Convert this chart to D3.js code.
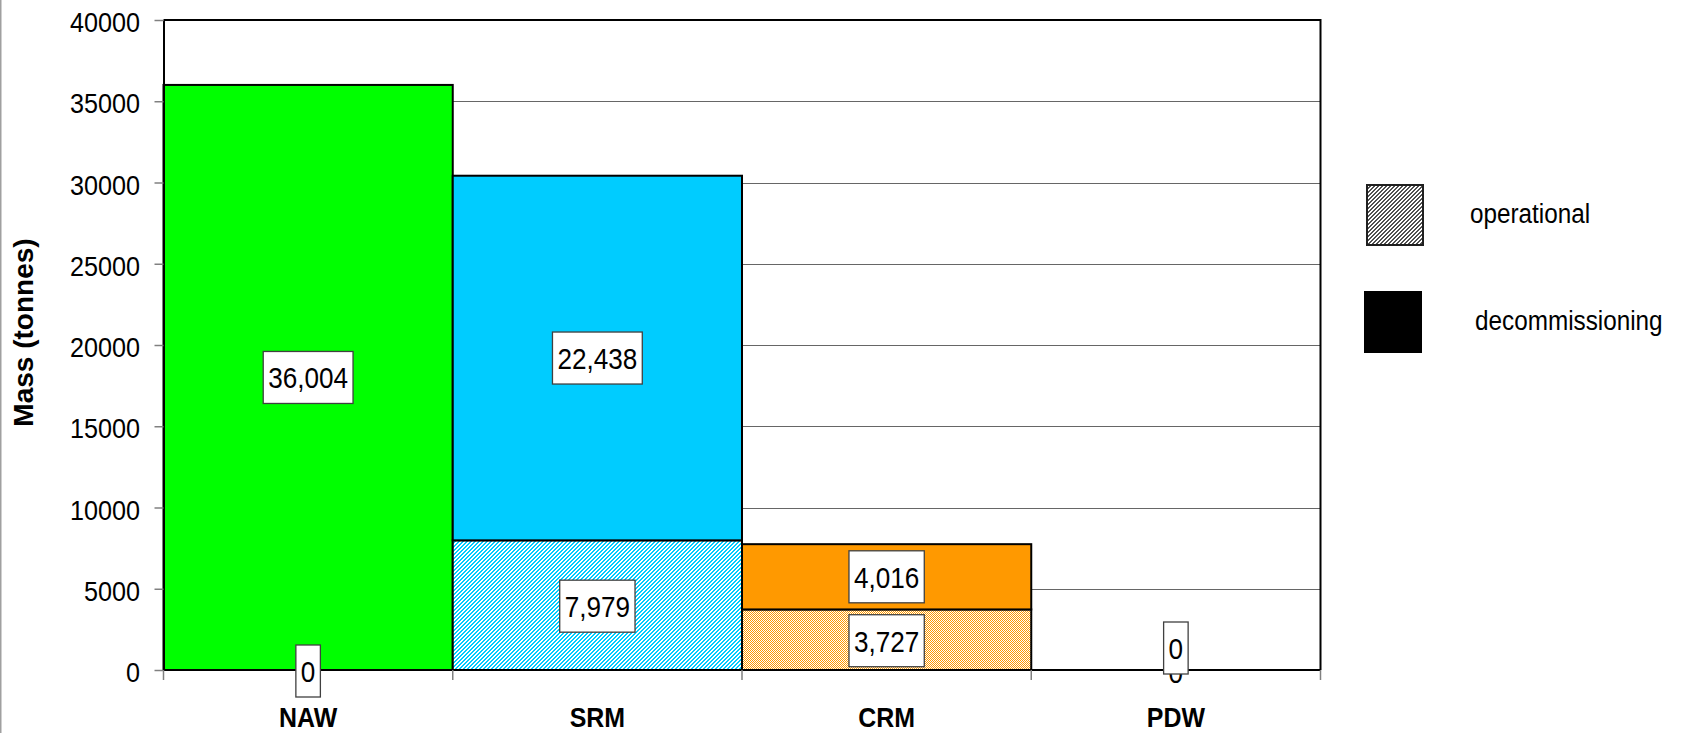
<!DOCTYPE html>
<html>
<head>
<meta charset="utf-8">
<script src="https://cdn.jsdelivr.net/npm/d3@7"></script>
<style>
  body { margin: 0; background: #fff; }
  svg { display: block; }
  text { font-family: "Liberation Sans", Arial, Helvetica, sans-serif; fill: #000; }
</style>
</head>
<body>
<svg id="chart" width="1684" height="733"></svg>
<script>
// Waste mass per stream, split into operational and decommissioning (tonnes)
const categories = ["NAW", "SRM", "CRM", "PDW"];
const operational = [0, 7979, 3727, 0];
const decommissioning = [36004, 22438, 4016, 0];
const seriesNames = ["operational", "decommissioning"];
const yTickValues = [0, 5000, 10000, 15000, 20000, 25000, 30000, 35000, 40000];
const yTitle = "Mass (tonnes)";

// Styling per stream
const barColors = ["#00ff00", "#00ccff", "#ff9900", "#ffffff"];
const hatchKinds = ["diag", "diag", "checker", "diag"];

const plot = { left: 163.5, right: 1320.5, top: 20, bottom: 670 };
const SX = 0.9; // text is set slightly condensed

const svg = d3.select("#chart");
const defs = svg.append("defs");

function makePattern(id, color, kind) {
  const p = defs.append("pattern")
    .attr("id", id)
    .attr("patternUnits", "userSpaceOnUse")
    .attr("width", 4).attr("height", 4);
  p.append("rect").attr("width", 4).attr("height", 4).attr("fill", "#fff");
  for (let r = 0; r < 4; r++) {
    const cols = kind === "diag"
      ? [(3 - r + 4) % 4, (4 - r) % 4]
      : [0, 1, 2, 3].filter(c => (r + c) % 2 === 0);
    cols.forEach(c => p.append("rect")
      .attr("x", c).attr("y", r).attr("width", 1).attr("height", 1)
      .attr("fill", color).attr("shape-rendering", "crispEdges"));
  }
}
categories.forEach((c, i) => makePattern("hatch-" + i, barColors[i], hatchKinds[i]));
makePattern("hatch-legend", "#505050", "diag");

const x = d3.scaleBand().domain(categories).range([plot.left, plot.right]).padding(0);
const y = d3.scaleLinear().domain([0, 40000]).range([plot.bottom, plot.top]);
const fmt = d3.format(",");

// left page edge rule
svg.append("rect").attr("x", 0).attr("y", 0).attr("width", 1.5).attr("height", 733).attr("fill", "#a0a0a0");

// horizontal gridlines
svg.append("g").selectAll("line")
  .data(yTickValues.filter(v => v > 0 && v < 40000))
  .join("line")
  .attr("x1", plot.left).attr("x2", plot.right)
  .attr("y1", d => Math.round(y(d)) + 0.5).attr("y2", d => Math.round(y(d)) + 0.5)
  .attr("stroke", "#666").attr("stroke-width", 1);

// stacked bars
const rows = categories.map((c, i) => ({ c, i, op: operational[i], dec: decommissioning[i] }));
const bars = svg.append("g");
rows.forEach(r => {
  if (r.op > 0) {
    bars.append("rect")
      .attr("x", x(r.c)).attr("width", x.bandwidth())
      .attr("y", y(r.op)).attr("height", y(0) - y(r.op))
      .attr("fill", `url(#hatch-${r.i})`)
      .attr("stroke", "#000").attr("stroke-width", 2);
  }
  if (r.dec > 0) {
    bars.append("rect")
      .attr("x", x(r.c)).attr("width", x.bandwidth())
      .attr("y", y(r.op + r.dec)).attr("height", y(r.op) - y(r.op + r.dec))
      .attr("fill", barColors[r.i])
      .attr("stroke", "#000").attr("stroke-width", 2);
  }
});

// plot frame (top and right)
svg.append("path")
  .attr("d", `M${plot.left},${plot.top}H${plot.right}V${plot.bottom}`)
  .attr("fill", "none").attr("stroke", "#000").attr("stroke-width", 2);

// y axis
const yAxis = svg.append("g")
  .attr("transform", `translate(${plot.left},0)`)
  .call(d3.axisLeft(y).tickValues(yTickValues).tickSize(9).tickSizeOuter(0).tickFormat(d3.format("d")));
yAxis.select(".domain").attr("stroke", "#000").attr("stroke-width", 2);
yAxis.selectAll(".tick line").attr("stroke", "#808080").attr("stroke-width", 1.5);
yAxis.selectAll(".tick text")
  .attr("x", null).attr("dy", null)
  .attr("transform", `translate(-23.5,11.7) scale(${SX},1)`)
  .attr("text-anchor", "end")
  .style("font-size", "28px")
  .style("font-family", "'Liberation Sans', Arial, sans-serif")
  .attr("fill", "#000");

// x axis line with boundary ticks
svg.append("line")
  .attr("x1", plot.left).attr("x2", plot.right)
  .attr("y1", plot.bottom).attr("y2", plot.bottom)
  .attr("stroke", "#000").attr("stroke-width", 2);
const edges = categories.map(c => x(c)).concat([plot.right]);
svg.append("g").selectAll("line").data(edges).join("line")
  .attr("x1", d => d).attr("x2", d => d)
  .attr("y1", plot.bottom).attr("y2", plot.bottom + 10)
  .attr("stroke", "#808080").attr("stroke-width", 1.5);
svg.append("g").selectAll("text").data(categories).join("text")
  .attr("transform", d => `translate(${x(d) + x.bandwidth() / 2},727) scale(0.89,1)`)
  .attr("text-anchor", "middle")
  .style("font-size", "28px").style("font-weight", "bold")
  .text(d => d);

// y axis title
svg.append("text")
  .attr("transform", "translate(33,332.5) rotate(-90)")
  .attr("text-anchor", "middle")
  .style("font-size", "28px").style("font-weight", "bold")
  .text(yTitle);

// data labels in white boxes
const labelLayer = svg.append("g");
function valueLabel(cx, cy, value, boxed) {
  const g = labelLayer.append("g");
  const rect = g.append("rect");
  const t = g.append("text")
    .attr("transform", `translate(${cx},${cy + 10.8}) scale(0.87,1)`)
    .attr("text-anchor", "middle")
    .style("font-size", "30px")
    .text(fmt(value));
  if (boxed) {
    const w = t.node().getComputedTextLength() * 0.87 + 10;
    rect.attr("x", cx - w / 2).attr("y", cy - 26).attr("width", w).attr("height", 52)
      .attr("fill", "#fff").attr("stroke", "#404040").attr("stroke-width", 1.3);
  } else {
    rect.remove();
  }
}
rows.forEach(r => {
  const cx = x(r.c) + x.bandwidth() / 2;
  const opMid = y(r.op / 2);
  const decMid = y(r.op + r.dec / 2);
  if (r.op === 0 && r.dec === 0) {
    // both segments empty: the second label sits just above the first
    valueLabel(cx, opMid + 2, r.op, false);
    valueLabel(cx, decMid - 22, r.dec, true);
  } else {
    valueLabel(cx, opMid + 1, r.op, true);
    valueLabel(cx, decMid, r.dec, true);
  }
});

// legend
const legend = svg.append("g");
const legendItems = [
  { name: seriesNames[0], fill: "url(#hatch-legend)", stroke: "#202020", x: 1367, y: 185, cy: 215 },
  { name: seriesNames[1], fill: "#000", stroke: "#000", x: 1365, y: 292, cy: 322 }
];
legendItems.forEach((d, i) => {
  legend.append("rect")
    .attr("x", d.x).attr("y", d.y).attr("width", 56).attr("height", 60)
    .attr("fill", d.fill).attr("stroke", d.stroke).attr("stroke-width", 2);
  legend.append("text")
    .attr("transform", `translate(${i === 0 ? 1470 : 1475},${d.cy + 8}) scale(${SX},1)`)
    .style("font-size", "27px")
    .text(d.name);
});
</script>
</body>
</html>
